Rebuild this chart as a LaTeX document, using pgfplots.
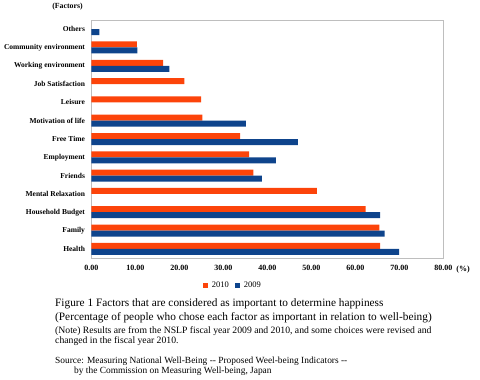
\documentclass[border=0pt]{standalone}
\usepackage{pgfplots}
\pgfplotsset{compat=1.18}
\usepackage{fontspec}
\setmainfont{Liberation Serif}
\definecolor{c2010}{RGB}{252,68,10}
\definecolor{c2009}{RGB}{14,68,140}
\definecolor{frame}{RGB}{190,190,190}
\begin{document}
\begin{tikzpicture}
\path[use as bounding box] (0pt,0pt) rectangle (480pt,-380pt);
\begin{axis}[
  at={(91.5pt,-258pt)}, anchor=south west,
  scale only axis, width=352pt, height=238pt,
  xbar, bar width=6pt,
  xmin=0, xmax=80, ymin=-0.5, ymax=12.5,
  xtick={0,10,...,80},
  ytick={0,...,12},
  yticklabels={Health,Family,Household Budget,Mental Relaxation,Friends,Employment,Free Time,Motivation of life,Leisure,Job Satisfaction,Working environment,Community environment,Others},
  major tick length=0pt,
  axis line style={frame},
  tick align=outside,
  xticklabel style={font=\fontsize{8pt}{9pt}\selectfont\bfseries},
  yticklabel style={font=\fontsize{7.5pt}{9pt}\selectfont\bfseries, xshift=-3pt},
  /pgf/number format/.cd, fixed, fixed zerofill, precision=2, assume math mode=true,
  /pgfplots/.cd,
  xticklabel shift=4pt,
  legend style={at={(0.402,-0.115)}, anchor=center, draw=none, legend columns=2,
    font=\fontsize{8.5pt}{9pt}\selectfont, column sep=2pt, inner sep=0pt,
    /tikz/every even column/.append style={column sep=4pt}},
  legend image code/.code={\fill[#1,draw=none] (0pt,-2.5pt) rectangle (5pt,2.5pt);},
  clip=false,
]
\addplot[fill=c2010, draw=none, bar shift=3pt] coordinates {
(65.6,0) (65.4,1) (62.3,2) (51.2,3) (36.8,4) (35.8,5) (33.8,6) (25.2,7) (24.9,8) (21.1,9) (16.3,10) (10.3,11)};
\addplot[fill=c2009, draw=none, bar shift=-3pt] coordinates {
(69.9,0) (66.6,1) (65.6,2) (38.7,4) (41.9,5) (46.9,6) (35.1,7) (17.7,10) (10.4,11) (1.8,12)};
\legend{2010,2009}
\end{axis}
\node[font=\fontsize{8pt}{9pt}\selectfont\bfseries] at (463pt,-270pt) {(\%)};
\node[font=\fontsize{7.8pt}{9pt}\selectfont\bfseries] at (67.5pt,-7pt) {(Factors)};
\node[anchor=west, inner sep=0pt, font=\fontsize{11.3pt}{12pt}\selectfont] at (55pt,-304pt) {Figure 1 Factors that are considered as important to determine happiness};
\node[anchor=west, inner sep=0pt, font=\fontsize{11.3pt}{12pt}\selectfont] at (55pt,-318pt) {(Percentage of people who chose each factor as important in relation to well-being)};
\node[anchor=west, inner sep=0pt, font=\fontsize{9.7pt}{10pt}\selectfont] at (55pt,-331pt) {(Note) Results are from the NSLP fiscal year 2009 and 2010, and some choices were revised and};
\node[anchor=west, inner sep=0pt, font=\fontsize{9.7pt}{10pt}\selectfont] at (55pt,-341pt) {changed in the fiscal year 2010.};
\node[anchor=west, inner sep=0pt, font=\fontsize{9.4pt}{10pt}\selectfont] at (55pt,-361pt) {Source: Measuring National Well-Being -{}- Proposed Weel-being Indicators -{}-};
\node[anchor=west, inner sep=0pt, font=\fontsize{9.4pt}{10pt}\selectfont] at (74pt,-371pt) {by the Commission on Measuring Well-being, Japan};
\end{tikzpicture}
\end{document}
